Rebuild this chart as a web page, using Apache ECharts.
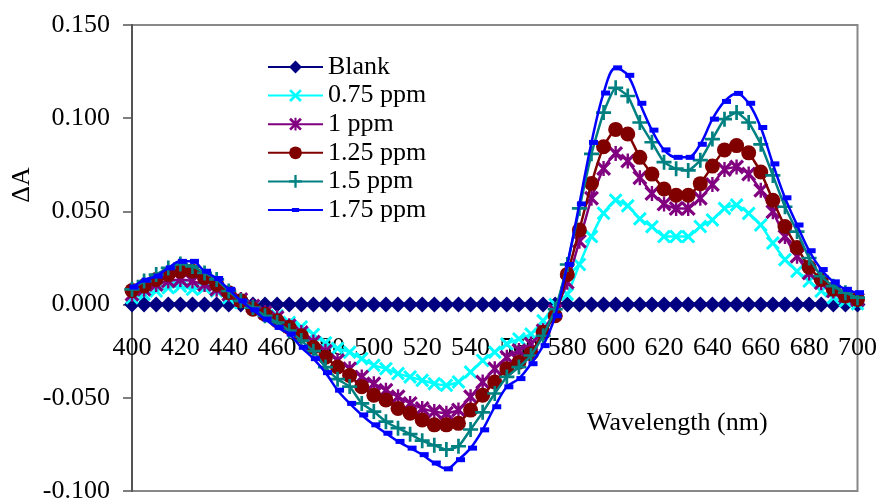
<!DOCTYPE html>
<html>
<head>
<meta charset="utf-8">
<script src="https://cdn.jsdelivr.net/npm/echarts@6/dist/echarts.min.js"></script>
<style>
html,body{margin:0;padding:0;background:#fff;}
#chart{width:880px;height:504px;}
</style>
</head>
<body>
<div id="chart"></div>
<script>
const wavelengths = [400,405,410,415,420,425,430,435,440,445,450,455,460,465,470,475,480,485,490,495,500,505,510,515,520,525,530,535,540,545,550,555,560,565,570,575,580,585,590,595,600,605,610,615,620,625,630,635,640,645,650,655,660,665,670,675,680,685,690,695,700];

const seriesNames = ['Blank','0.75 ppm','1 ppm','1.25 ppm','1.5 ppm','1.75 ppm'];

const blank = [0,0,0,0,0,0,0,0,0,0,0,0,0,0,0,0,0,0,0,0,0,0,0,0,0,0,0,0,0,0,0,0,0,0,0,0,0,0,0,0,0,0,0,0,0,0,0,0,0,0,0,0,0,0,0,0,0,0,0,0,0];

const ppm075 = [0.0037,0.0055,0.0073,0.0090,0.0099,0.0082,0.0090,0.0073,0.0037,0.0010,-0.0012,-0.0043,-0.0060,-0.0096,-0.0120,-0.0160,-0.0205,-0.0235,-0.0255,-0.0290,-0.0326,-0.0344,-0.0370,-0.0388,-0.0406,-0.0424,-0.0433,-0.0415,-0.0362,-0.0300,-0.0255,-0.0211,-0.0184,-0.0158,-0.0087,0.0000,0.0055,0.0215,0.0365,0.0490,0.0560,0.0530,0.0460,0.0418,0.0365,0.0365,0.0365,0.0419,0.0454,0.0516,0.0534,0.0489,0.0427,0.0330,0.0241,0.0179,0.0126,0.0073,0.0037,0.0020,0.0005];

const ppm100 = [0.0055,0.0082,0.0108,0.0126,0.0135,0.0126,0.0108,0.0082,0.0055,0.0028,-0.0007,-0.0043,-0.0069,-0.0113,-0.0150,-0.0200,-0.0250,-0.0300,-0.0344,-0.0388,-0.0424,-0.0459,-0.0495,-0.0530,-0.0557,-0.0574,-0.0583,-0.0566,-0.0495,-0.0415,-0.0344,-0.0282,-0.0246,-0.0211,-0.0140,-0.0034,0.0120,0.0340,0.0570,0.0730,0.0810,0.0770,0.0680,0.0596,0.0540,0.0516,0.0516,0.0570,0.0644,0.0725,0.0738,0.0700,0.0613,0.0498,0.0365,0.0259,0.0170,0.0117,0.0073,0.0046,0.0028];

const ppm125 = [0.0076,0.0100,0.0135,0.0161,0.0179,0.0179,0.0144,0.0108,0.0064,0.0020,-0.0025,-0.0052,-0.0087,-0.0122,-0.0167,-0.0229,-0.0282,-0.0335,-0.0380,-0.0441,-0.0486,-0.0512,-0.0557,-0.0583,-0.0619,-0.0645,-0.0645,-0.0637,-0.0566,-0.0486,-0.0415,-0.0344,-0.0309,-0.0264,-0.0149,-0.0060,0.0162,0.0400,0.0650,0.0847,0.0940,0.0915,0.0790,0.0700,0.0620,0.0587,0.0587,0.0649,0.0743,0.0830,0.0853,0.0814,0.0711,0.0560,0.0419,0.0307,0.0200,0.0135,0.0082,0.0046,0.0028];

const ppm150 = [0.0082,0.0126,0.0161,0.0197,0.0218,0.0205,0.0170,0.0135,0.0073,0.0020,-0.0016,-0.0060,-0.0096,-0.0140,-0.0193,-0.0250,-0.0335,-0.0400,-0.0440,-0.0530,-0.0574,-0.0628,-0.0663,-0.0695,-0.0730,-0.0755,-0.0778,-0.0760,-0.0670,-0.0578,-0.0477,-0.0388,-0.0335,-0.0273,-0.0167,-0.0025,0.0215,0.0516,0.0809,0.1030,0.1163,0.1119,0.0977,0.0871,0.0764,0.0729,0.0720,0.0775,0.0888,0.0995,0.1030,0.0977,0.0860,0.0693,0.0525,0.0392,0.0250,0.0152,0.0099,0.0064,0.0037];

const ppm175 = [0.0094,0.0131,0.0153,0.0197,0.0232,0.0232,0.0179,0.0140,0.0082,0.0020,-0.0028,-0.0078,-0.0122,-0.0158,-0.0229,-0.0290,-0.0365,-0.0459,-0.0530,-0.0592,-0.0645,-0.0690,-0.0734,-0.0770,-0.0805,-0.0850,-0.0881,-0.0832,-0.0770,-0.0672,-0.0548,-0.0441,-0.0397,-0.0317,-0.0220,-0.0060,0.0215,0.0540,0.0870,0.1135,0.1270,0.1230,0.1080,0.0936,0.0830,0.0790,0.0790,0.0860,0.0995,0.1090,0.1133,0.1080,0.0950,0.0755,0.0573,0.0427,0.0289,0.0188,0.0122,0.0082,0.0064];

const xTicks = [400,420,440,460,480,500,520,540,560,580,600,620,640,660,680,700];
const yTicks = [-0.100,-0.050,0.000,0.050,0.100,0.150];

const FONT = '"Liberation Serif", "Times New Roman", serif';

function pairs(vals){ return wavelengths.map((w,i)=>[w, vals[i]]); }

const symX = 'path://M0,3 L3,0 L10,7 L17,0 L20,3 L13,10 L20,17 L17,20 L10,13 L3,20 L0,17 L7,10 Z';
const symStar = 'path://M0,3 L3,0 L10,7 L17,0 L20,3 L13,10 L20,17 L17,20 L10,13 L3,20 L0,17 L7,10 Z M8.4,0 L11.6,0 L11.6,20 L8.4,20 Z';
const symPlus = 'path://M8.2,0 L11.8,0 L11.8,8.2 L20,8.2 L20,11.8 L11.8,11.8 L11.8,20 L8.2,20 L8.2,11.8 L0,11.8 L0,8.2 L8.2,8.2 Z';
const symDash = 'path://M0,0 M3.5,5.5 L12.5,5.5 L12.5,10.5 L3.5,10.5 Z M16,16';

const styles = [
  {color:'#000080', symbol:'diamond', size:16},
  {color:'#00FFFF', symbol:symX, size:14},
  {color:'#800080', symbol:symStar, size:15},
  {color:'#800000', symbol:'circle', size:15},
  {color:'#008080', symbol:symPlus, size:15},
  {color:'#0000FF', symbol:symDash, size:16, smooth:0.35, offset:[2,0]}
];
const datasets = [blank, ppm075, ppm100, ppm125, ppm150, ppm175];

const series = datasets.map((d,i)=>({
  name: seriesNames[i],
  type: 'line',
  data: pairs(d),
  symbol: styles[i].symbol,
  symbolSize: styles[i].size,
  symbolOffset: styles[i].offset || [0,0],
  smooth: styles[i].smooth || 0.15,
  showAllSymbol: true,
  animation: false,
  lineStyle: {color: styles[i].color, width: 2.5},
  itemStyle: {color: styles[i].color, borderWidth: 0},
  emphasis: {disabled: true},
  z: 2 + i
}));

const chart = echarts.init(document.getElementById('chart'), null, {renderer:'canvas'});
chart.setOption({
  animation: false,
  backgroundColor: '#ffffff',
  grid: {left:132, right:22, top:25, bottom:9, show:true, borderColor:'#888888', borderWidth:2, backgroundColor:'transparent'},
  xAxis: {
    type:'value', min:400, max:700, interval:20,
    position:'bottom', offset:-188,
    axisLine:{show:true, onZero:false, lineStyle:{color:'#333', width:1.5}},
    axisTick:{show:false},
    splitLine:{show:false},
    axisLabel:{fontFamily:FONT, fontSize:26, color:'#000', margin:32,
      formatter: v => xTicks.includes(v) ? String(v) : ''}
  },
  yAxis: {
    type:'value', min:-0.1, max:0.15, interval:0.05,
    axisLine:{show:true, onZero:false, lineStyle:{color:'#555', width:2}},
    axisTick:{show:true, inside:false, length:9, lineStyle:{color:'#555', width:1.5}},
    splitLine:{show:false},
    axisLabel:{fontFamily:FONT, fontSize:26, color:'#000', margin:22, padding:[4,0,0,0],
      formatter: v => { const t = yTicks.find(y=>Math.abs(y-v)<1e-9); return t===undefined ? '' : t.toFixed(3); }}
  },
  legend: {
    show:true, orient:'vertical', left:262, top:49,
    itemWidth:55, itemHeight:16, itemGap:2.6,
    textStyle:{fontFamily:FONT, fontSize:26, color:'#000', lineHeight:26},
    data: seriesNames
  },
  graphic: [
    {type:'text', left:587, top:410, style:{text:'Wavelength (nm)', font:'26px ' + FONT, fill:'#000'}},
    {type:'text', x:22, y:185, rotation:Math.PI/2, style:{text:'ΔA', font:'26px ' + FONT, fill:'#000', align:'center', verticalAlign:'middle'}}
  ],
  series: series
});
</script>
</body>
</html>
